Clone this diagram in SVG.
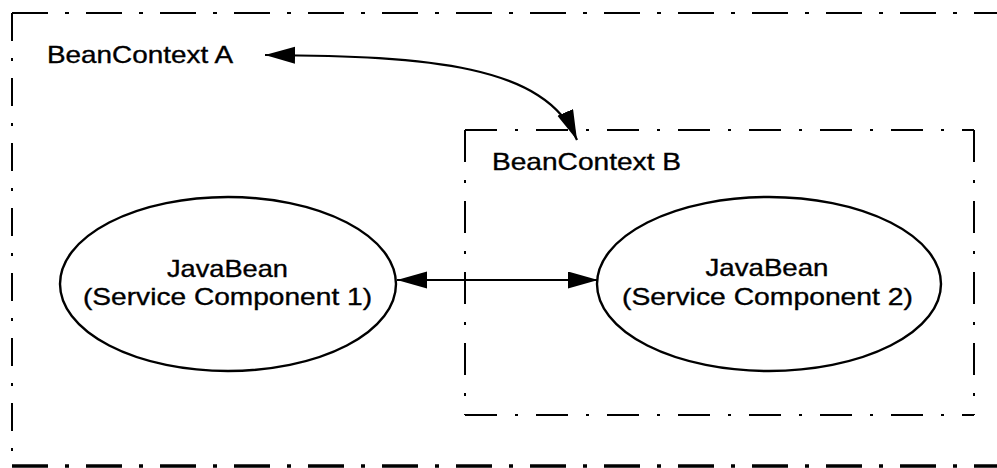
<svg xmlns="http://www.w3.org/2000/svg" width="997" height="468" viewBox="0 0 997 468">
  <style>
    .label { font-family: "Liberation Sans", Arial, sans-serif; font-size: 24px; fill: #000; stroke: #000; stroke-width: 0.35; }
    .mid { text-anchor: middle; }
    .node { fill: #fff; stroke: #000; stroke-width: 2.4; }
    .edge { fill: none; stroke: #000; stroke-width: 2.2; }
    .ctxA { fill: none; stroke: #000; stroke-width: 2; stroke-dasharray: 36 17 4 17; }
    .ctxAv { fill: none; stroke: #000; stroke-width: 2; stroke-dasharray: 28 17 3 17; }
    .ctxB { fill: none; stroke: #000; stroke-width: 2; stroke-dasharray: 32 18 3 18; }
  </style>
  <defs>
    <marker id="head" markerUnits="userSpaceOnUse" markerWidth="32" markerHeight="18" refX="30" refY="8.5" orient="auto-start-reverse">
      <path d="M0,0 L30,8.5 L0,17 z" fill="#000"/>
    </marker>
  </defs>
  <rect width="997" height="468" fill="#fff"/>

  <!-- BeanContext A: outer context boundary -->
  <g id="beancontext-a">
    <line class="ctxA" x1="12" y1="13" x2="1000" y2="13"/>
    <line class="ctxAv" x1="12" y1="13" x2="12" y2="466"/>
    <line class="ctxA" x1="12" y1="466" x2="1000" y2="466" style="stroke-width:3.5"/>
    <text class="label" x="47" y="63" textLength="186" lengthAdjust="spacingAndGlyphs">BeanContext A</text>
  </g>

  <!-- BeanContext B: nested context -->
  <g id="beancontext-b">
    <line class="ctxB" x1="465" y1="130" x2="974" y2="130"/>
    <line class="ctxB" x1="465" y1="130" x2="465" y2="415"/>
    <line class="ctxB" x1="974" y1="130" x2="974" y2="415"/>
    <line class="ctxB" x1="465" y1="415" x2="974" y2="415"/>
    <text class="label" x="492" y="170" textLength="189" lengthAdjust="spacingAndGlyphs">BeanContext B</text>
  </g>

  <!-- Service components -->
  <g id="javabean-1">
    <ellipse class="node" cx="228" cy="284" rx="168" ry="87"/>
    <text class="label mid" x="227.5" y="277" textLength="121" lengthAdjust="spacingAndGlyphs">JavaBean</text>
    <text class="label mid" x="227.5" y="305" textLength="289" lengthAdjust="spacingAndGlyphs">(Service Component 1)</text>
  </g>
  <g id="javabean-2">
    <ellipse class="node" cx="769" cy="284" rx="172" ry="87"/>
    <text class="label mid" x="767" y="276" textLength="123" lengthAdjust="spacingAndGlyphs">JavaBean</text>
    <text class="label mid" x="767.5" y="305" textLength="291" lengthAdjust="spacingAndGlyphs">(Service Component 2)</text>
  </g>

  <!-- Connectors -->
  <g id="connectors">
    <path class="edge" d="M265,55 C430,56 545,65 577,140" marker-start="url(#head)" marker-end="url(#head)"/>
    <line class="edge" x1="397" y1="280" x2="598" y2="280" marker-start="url(#head)" marker-end="url(#head)"/>
  </g>
</svg>
